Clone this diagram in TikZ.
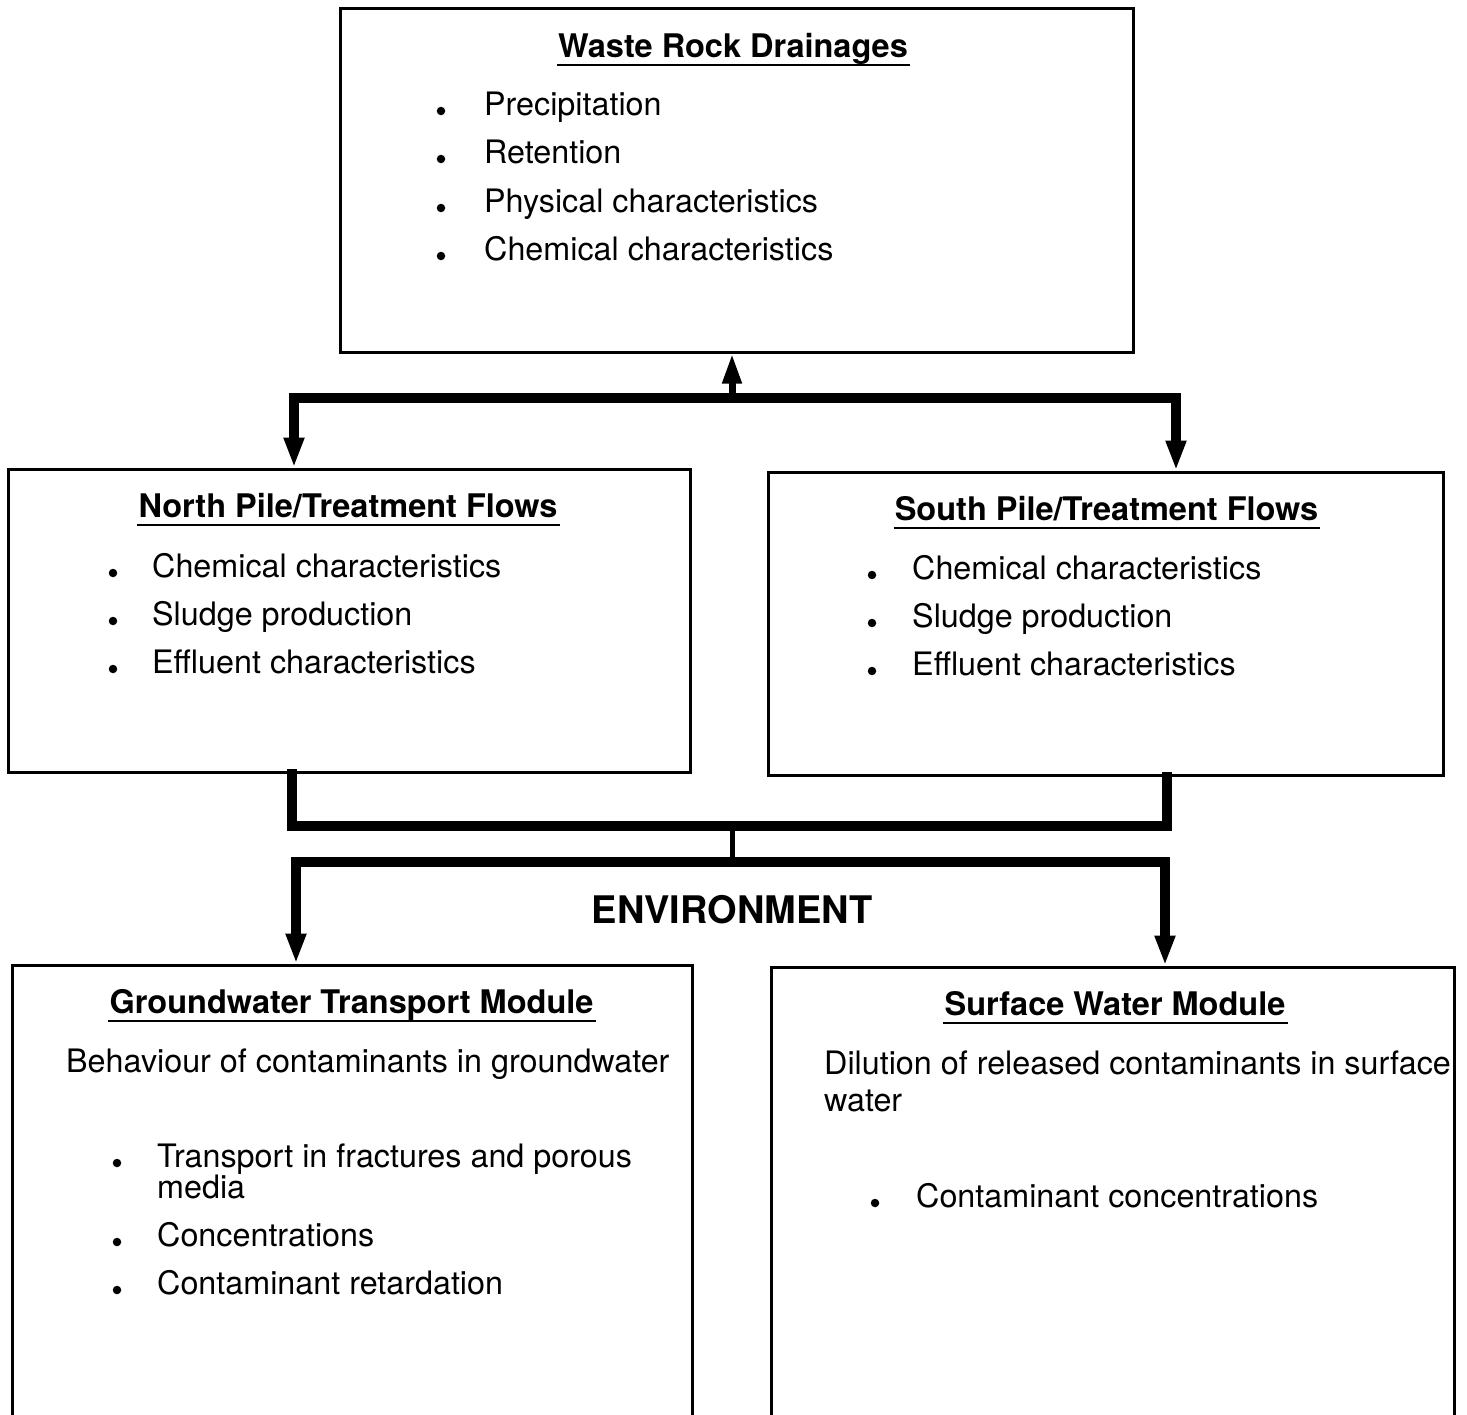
\documentclass[tikz,border=0pt]{standalone}
\usepackage{fontspec}
\setmainfont{TeX Gyre Heros}
\usetikzlibrary{arrows.meta}
\tikzset{
  box/.style={draw, line width=3pt, inner sep=0pt},
  body/.style={inner sep=0pt, anchor=base west, font=\fontsize{32.3}{36}\selectfont},
  heading/.style={inner sep=0pt, anchor=base, font=\fontsize{32.5}{36}\selectfont\bfseries},
  uline/.style={line width=2.5pt},
  dot/.style={fill, circle, inner sep=0pt, minimum size=8.5pt},
  bar/.style={line width=10pt, line join=miter, line cap=rect},
  tip/.style={-{Triangle[width=18pt,length=30pt]}},
  tips/.style={{Triangle[width=19pt,length=30pt]}-{Triangle[width=19pt,length=30pt]}}
}
\begin{document}
\begin{tikzpicture}[x=1pt, y=-1pt]
\clip (0,0) rectangle (1467,1414);
\fill[white] (0,0) rectangle (1467,1414);

% Boxes
\node[box, minimum width=793pt, minimum height=344pt] (wrd) at (736.5,180) {};
\node[box, minimum width=682pt, minimum height=303pt] (north) at (349,620.5) {};
\node[box, minimum width=675pt, minimum height=303pt] (south) at (1105.5,623.5) {};
\node[box, minimum width=680pt, minimum height=485pt] (gw) at (352,1207.5) {};
\node[box, minimum width=683pt, minimum height=483pt] (sw) at (1112.5,1208.5) {};

% Waste rock drainages
\node[heading] (t1) at (733,57) {Waste Rock Drainages};
\draw[uline] ([yshift=-8pt,xshift=-1pt]t1.base west) -- ([yshift=-8pt,xshift=2pt]t1.base east);
\foreach \y/\txt [count=\i] in {115/Precipitation, 163/Retention, 212/Physical characteristics, 260/Chemical characteristics}{
  \node[dot] (wd\i) at (441,\y-4) {};
  \node[body] (wb\i) at (484,\y) {\txt};
}

% North pile
\node[heading] (t2) at (348,517) {North Pile/Treatment Flows};
\draw[uline] ([yshift=-8pt,xshift=-1pt]t2.base west) -- ([yshift=-8pt,xshift=2pt]t2.base east);
\foreach \y/\txt [count=\i] in {577/Chemical characteristics, 625/Sludge production, 673/Effluent characteristics}{
  \node[dot] (nd\i) at (113,\y-4) {};
  \node[body] (nb\i) at (152,\y) {\txt};
}

% South pile
\node[heading] (t3) at (1106.5,520) {South Pile/Treatment Flows};
\draw[uline] ([yshift=-8pt,xshift=-1pt]t3.base west) -- ([yshift=-8pt,xshift=2pt]t3.base east);
\foreach \y/\txt [count=\i] in {579/Chemical characteristics, 627/Sludge production, 675/Effluent characteristics}{
  \node[dot] (sd\i) at (872,\y-4) {};
  \node[body] (sb\i) at (912,\y) {\txt};
}

% Environment label
\node[heading, font=\fontsize{38}{42}\selectfont\bfseries] (env) at (732,923) {ENVIRONMENT};

% Groundwater transport module
\node[heading] (t4) at (351.5,1013) {Groundwater Transport Module};
\draw[uline] ([yshift=-8pt,xshift=-1pt]t4.base west) -- ([yshift=-8pt,xshift=2pt]t4.base east);
\node[body] (gwi) at (66,1072) {Behaviour of contaminants in groundwater};
\node[dot] (gd1) at (117,1163) {};
\node[body] (gb1) at (157,1167) {Transport in fractures and porous};
\node[body] (gb1b) at (157,1198) {media};
\node[dot] (gd2) at (117,1242) {};
\node[body] (gb2) at (157,1246) {Concentrations};
\node[dot] (gd3) at (117,1290) {};
\node[body] (gb3) at (157,1294) {Contaminant retardation};

% Surface water module
\node[heading] (t5) at (1115,1015) {Surface Water Module};
\draw[uline] ([yshift=-8pt,xshift=-1pt]t5.base west) -- ([yshift=-8pt,xshift=2pt]t5.base east);
\node[body] (swi) at (824,1074) {Dilution of released contaminants in surface};
\node[body] (swi2) at (824,1111) {water};
\node[dot] (sw1d) at (875,1203) {};
\node[body] (sw1) at (916,1207) {Contaminant concentrations};

% Upper connector: drainages feed both piles
\coordinate (jt) at (732,398);
\coordinate (nl) at (294,398);
\coordinate (sr) at (1176,398);
\draw[bar, tips] (north.north -| nl) |- (sr) -- (south.north -| sr);
\draw[line width=7pt, tip] (jt) -- (jt |- wrd.south);

% Lower connector: piles merge and release to the environment
\coordinate (ml) at (292,826);
\coordinate (mr) at (1167,826);
\draw[bar] (north.south -| ml) |- (mr) -- (south.south -| mr);
\coordinate (mc) at (732,826);
\coordinate (ec) at (732,862);
\draw[line width=5pt] (mc) -- (ec);
\coordinate (el) at (296,862);
\coordinate (er) at (1165,862);
\draw[bar, tips] (gw.north -| el) |- (er) -- (sw.north -| er);
\end{tikzpicture}
\end{document}
